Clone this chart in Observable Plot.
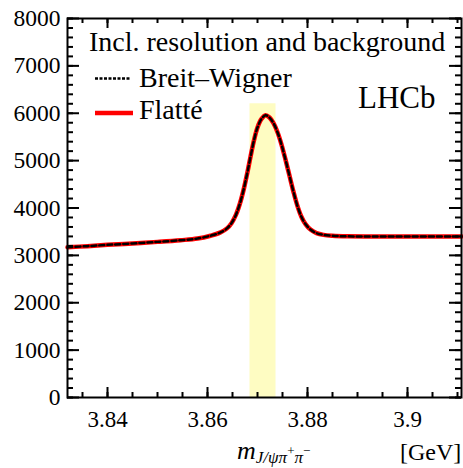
<!DOCTYPE html>
<html><head><meta charset="utf-8">
<script src="https://cdn.jsdelivr.net/npm/d3@7"></script>
<script src="https://cdn.jsdelivr.net/npm/@observablehq/plot@0.6"></script>
<style>html,body{margin:0;padding:0;background:#fff}svg{display:block}</style>
</head><body><div id="chart"></div>
<script>
// Mass points (GeV) and fitted curve values
const massGeV = [3.832,3.836,3.840,3.845,3.850,3.8546,3.858,3.8606,3.8625,3.8639,3.8648,3.8657,3.8665,3.8673,3.8680,3.8686,3.8693,3.8700,3.8708,3.8716,3.8724,3.8732,3.8740,3.8748,3.8756,3.8764,3.8772,3.8780,3.8788,3.8796,3.8806,3.8818,3.8832,3.8850,3.888,3.895,3.9108];
const breitWigner = [3170,3195,3222,3252,3285,3320,3355,3415,3480,3570,3680,3860,4100,4420,4760,5080,5430,5700,5880,5960,5910,5790,5600,5340,5020,4680,4340,4040,3810,3660,3545,3470,3432,3413,3402,3400,3400];
const flatte = breitWigner.slice();
const bandMass = [3.8685, 3.8737];
const bandTop = 6200;
const xTicks = [3.84, 3.86, 3.88, 3.9];
const xTickLabels = ["3.84", "3.86", "3.88", "3.9"];
const xMinor = d3.range(3.835, 3.911, 0.005).map(v => +v.toFixed(3));
const yTicks = [0,1000,2000,3000,4000,5000,6000,7000,8000];
const yTickLabels = ["0","1000","2000","3000","4000","5000","6000","7000","8000"];
const yMinor = d3.range(0, 8001, 200);
const legendLabels = ["Breit\u2013Wigner", "Flatt\u00e9"];

const W = 463, H = 468, mL = 67, mR = 2, mT = 18, mB = 71;
const fh = H - mT - mB, fw = W - mL - mR;
const rows = massGeV.map((m, i) => ({m, bw: breitWigner[i], fl: flatte[i]}));
const F = "'Liberation Serif', serif";

const plot = Plot.plot({
  width: W, height: H,
  marginLeft: mL, marginRight: mR, marginTop: mT, marginBottom: mB,
  style: {fontFamily: F, fontSize: "23px", background: "#fff", color: "#000"},
  x: {domain: [3.832, 3.9108], label: null},
  y: {domain: [0, 8000], label: null},
  marks: [
    Plot.rect([bandMass], {x1: d => d[0], x2: d => d[1], y1: 0, y2: bandTop, fill: "#fefcc2"}),
    Plot.line(rows, {x: "m", y: "fl", stroke: "#ff0000", strokeWidth: 4.5, curve: "catmull-rom"}),
    Plot.line(rows, {x: "m", y: "bw", stroke: "#000", strokeWidth: 2.5, strokeDasharray: "5,3", curve: "catmull-rom"}),
    Plot.tickX(xTicks, {x: d => d, insetTop: fh - 10, stroke: "#000", strokeWidth: 2}),
    Plot.tickX(xTicks, {x: d => d, insetBottom: fh - 10, stroke: "#000", strokeWidth: 2}),
    Plot.tickX(xMinor, {x: d => d, insetTop: fh - 5, stroke: "#000", strokeWidth: 2}),
    Plot.tickX(xMinor, {x: d => d, insetBottom: fh - 5, stroke: "#000", strokeWidth: 2}),
    Plot.tickY(yTicks, {y: d => d, insetRight: fw - 12, stroke: "#000", strokeWidth: 2}),
    Plot.tickY(yTicks, {y: d => d, insetLeft: fw - 12, stroke: "#000", strokeWidth: 2}),
    Plot.tickY(yMinor, {y: d => d, insetRight: fw - 6, stroke: "#000", strokeWidth: 2}),
    Plot.tickY(yMinor, {y: d => d, insetLeft: fw - 6, stroke: "#000", strokeWidth: 2}),
    Plot.axisX(xTicks, {tickSize: 0, tickPadding: 13, tickFormat: (d, i) => xTickLabels[i], fontSize: 23, fontFamily: F, fill: "#000", label: null}),
    Plot.axisY(yTicks, {tickSize: 0, tickPadding: 7, tickFormat: (d, i) => yTickLabels[i], fontSize: 23.5, fontFamily: F, fill: "#000", label: null}),
    Plot.frame({stroke: "#000", strokeWidth: 2})
  ]
});
document.getElementById("chart").appendChild(plot);

const svg = d3.select(plot);
const g = svg.append("g").attr("font-family", F).attr("fill", "#000").attr("text-anchor", "start");
g.append("text").attr("x", 89).attr("y", 51).attr("font-size", 28).text("Incl. resolution and background");
g.append("line").attr("x1", 95).attr("x2", 130).attr("y1", 78.5).attr("y2", 78.5).attr("stroke", "#000").attr("stroke-width", 2.5).attr("stroke-dasharray", "3,1.5");
g.append("line").attr("x1", 95).attr("x2", 133).attr("y1", 113).attr("y2", 113).attr("stroke", "#ff0000").attr("stroke-width", 4.5);
g.append("text").attr("x", 139).attr("y", 87).attr("font-size", 28).text(legendLabels[0]);
g.append("text").attr("x", 139).attr("y", 119).attr("font-size", 28).text(legendLabels[1]);
g.append("text").attr("x", 358).attr("y", 108).attr("font-size", 31).text("LHCb");
const lab = g.append("text").attr("x", 237).attr("y", 459).attr("font-size", 26);
lab.append("tspan").attr("font-style", "italic").text("m");
lab.append("tspan").attr("font-style", "italic").attr("font-size", 17).attr("dy", 4).text("J/\u03c8\u03c0");
lab.append("tspan").attr("font-size", 13).attr("dy", -8).text("+");
lab.append("tspan").attr("font-style", "italic").attr("font-size", 17).attr("dy", 8).text("\u03c0");
lab.append("tspan").attr("font-size", 13).attr("dy", -8).text("\u2212");
g.append("text").attr("x", 400).attr("y", 460).attr("font-size", 24).text("[GeV]");
</script></body></html>
